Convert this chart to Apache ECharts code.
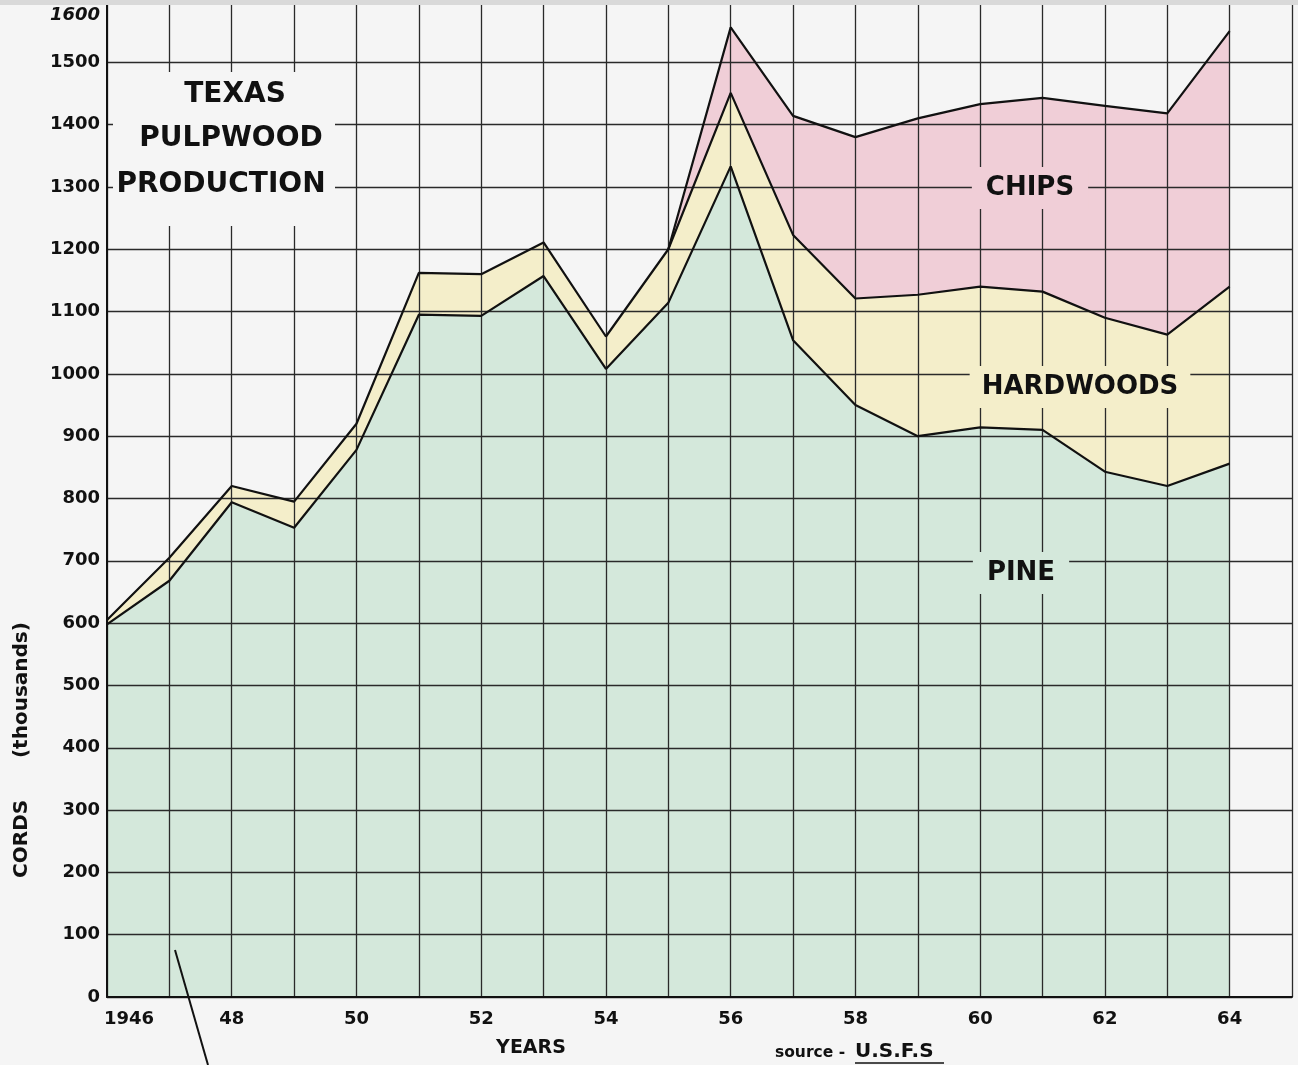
<!DOCTYPE html>
<html>
<head>
<meta charset="utf-8">
<script src="https://cdn.jsdelivr.net/npm/echarts@6/dist/echarts.min.js"></script>
<style>
html,body{margin:0;padding:0;background:#f5f5f5;}
#c{width:1298px;height:1065px;}
</style>
</head>
<body>
<div id="c"></div>
<script>
// ---- data (thousands of cords) ----
var years = ['1946','1947','1948','1949','1950','1951','1952','1953','1954','1955','1956','1957','1958','1959','1960','1961','1962','1963','1964'];
var axisEndYear = '1965';
var pine      = [598, 668, 794, 753, 878, 1095, 1093, 1157, 1008, 1114, 1333, 1054, 950, 900, 914, 910, 843, 820, 856];
var hardwoods = [7, 37, 26, 42, 42, 67, 67, 54, 52, 86, 118, 169, 171, 227, 226, 222, 247, 243, 284];
var chips     = ['-', '-', '-', '-', '-', '-', '-', '-', '-', 0, 105, 191, 259, 283, 293, 311, 340, 355, 410];
var yTicks = [0,100,200,300,400,500,600,700,800,900,1000,1100,1200,1300,1400,1500,1600];
var xLabelYears = ['1946','1948','1950','1952','1954','1956','1958','1960','1962','1964'];

var FONT = '"DejaVu Sans", sans-serif';
var colPine = '#d4e8db', colHard = '#f4eeca', colChips = '#f0ced7', bg = '#f5f5f5';

var chart = echarts.init(document.getElementById('c'));
var option = {
  backgroundColor: bg,
  animation: false,
  grid: {left: 107, right: 6, top: -4, bottom: 68},
  xAxis: {
    type: 'category', data: years.concat([axisEndYear]), boundaryGap: false, z: 3,
    axisLine: {show: true, lineStyle: {color: '#111', width: 2}},
    axisTick: {show: false},
    splitLine: {show: true, interval: 0, lineStyle: {color: '#2a2a2a', width: 1.3}},
    axisLabel: {
      interval: 0, margin: 13, color: '#111', fontFamily: FONT, fontWeight: 'bold', fontSize: 18,
      formatter: function(v){
        if (xLabelYears.indexOf(v) < 0) return '';
        if (v === '1946') return '{a|1946}';
        return v.slice(2);
      },
      rich: {a: {padding: [0,0,0,44], fontFamily: FONT, fontWeight: 'bold', fontSize: 18, color: '#111'}}
    }
  },
  yAxis: {
    type: 'value', min: 0, max: 1600, interval: 100, z: 3,
    axisLine: {show: true, lineStyle: {color: '#111', width: 2}},
    axisTick: {show: false},
    splitLine: {show: true, lineStyle: {color: '#2a2a2a', width: 1.3}},
    axisLabel: {
      margin: 7, color: '#111', fontFamily: FONT, fontWeight: 'bold', fontSize: 18,
      formatter: function(v){
        if (yTicks.indexOf(v) < 0) return '';
        if (v === 1600) return '{t|1600}';
        return String(v);
      },
      rich: {t: {padding: [30,0,0,0], fontFamily: FONT, fontWeight: 'bold', fontStyle: 'italic', fontSize: 18, color: '#111'}}
    }
  },
  series: [
    {name:'PINE', type:'line', stack:'area', data: pine, symbol:'none', z:1,
     lineStyle:{width:0}, areaStyle:{color: colPine, opacity:1}},
    {name:'HARDWOODS', type:'line', stack:'area', data: hardwoods, symbol:'none', z:1,
     lineStyle:{width:0}, areaStyle:{color: colHard, opacity:1}},
    {name:'CHIPS', type:'line', stack:'area', data: chips, symbol:'none', z:1,
     lineStyle:{width:0}, areaStyle:{color: colChips, opacity:1}},
    {name:'PINE line', type:'line', stack:'ln', data: pine, symbol:'none', z:5,
     lineStyle:{width:2.2, color:'#111'}},
    {name:'HARDWOODS line', type:'line', stack:'ln', data: hardwoods, symbol:'none', z:5,
     lineStyle:{width:2.2, color:'#111'}},
    {name:'CHIPS line', type:'line', stack:'ln', data: chips, symbol:'none', z:5,
     lineStyle:{width:2.2, color:'#111'}}
  ],
  graphic: [
    {type:'rect', x:0, y:0, shape:{width:1298, height:5}, style:{fill:'#d9d9d9'}, z:10},
    {type:'rect', x:113, y:72, shape:{width:222, height:154}, style:{fill: bg}, z:20},
    {type:'text', style:{text:'TEXAS', x:235, y:95, align:'center', verticalAlign:'middle',
      font:'bold 28px ' + FONT, fill:'#111'}, z:21},
    {type:'text', style:{text:'PULPWOOD', x:231, y:139, align:'center', verticalAlign:'middle',
      font:'bold 28px ' + FONT, fill:'#111'}, z:21},
    {type:'text', style:{text:'PRODUCTION', x:221, y:185, align:'center', verticalAlign:'middle',
      font:'bold 28px ' + FONT, fill:'#111'}, z:21},
    {type:'text', style:{text:'CHIPS', x:1030, y:188, align:'center', verticalAlign:'middle',
      font:'bold 26px ' + FONT, fill:'#111', backgroundColor: colChips, padding:[8,14]}, z:21},
    {type:'text', style:{text:'HARDWOODS', x:1080, y:387, align:'center', verticalAlign:'middle',
      font:'bold 26px ' + FONT, fill:'#111', backgroundColor: colHard, padding:[8,12]}, z:21},
    {type:'text', style:{text:'PINE', x:1021, y:573, align:'center', verticalAlign:'middle',
      font:'bold 26px ' + FONT, fill:'#111', backgroundColor: colPine, padding:[8,14]}, z:21},
    {type:'text', rotation: Math.PI/2, x:22, y:750, style:{text:'CORDS      (thousands)', x:0, y:0,
      align:'center', verticalAlign:'middle', font:'bold 20px ' + FONT, fill:'#111'}, z:21},
    {type:'text', style:{text:'YEARS', x:531, y:1048, align:'center', verticalAlign:'middle',
      font:'bold 19px ' + FONT, fill:'#111'}, z:21},
    {type:'text', style:{text:'source -', x:775, y:1053, align:'left', verticalAlign:'middle',
      font:'bold 15.5px ' + FONT, fill:'#111'}, z:21},
    {type:'text', style:{text:'U.S.F.S', x:855, y:1052, align:'left', verticalAlign:'middle',
      font:'bold 20px ' + FONT, fill:'#111'}, z:21},
    {type:'line', shape:{x1:855, y1:1063, x2:944, y2:1063}, style:{stroke:'#111', lineWidth:1.5}, z:21},
    {type:'line', shape:{x1:175, y1:950, x2:208, y2:1065}, style:{stroke:'#111', lineWidth:2}, z:21}
  ]
};
chart.setOption(option);
</script>
</body>
</html>
